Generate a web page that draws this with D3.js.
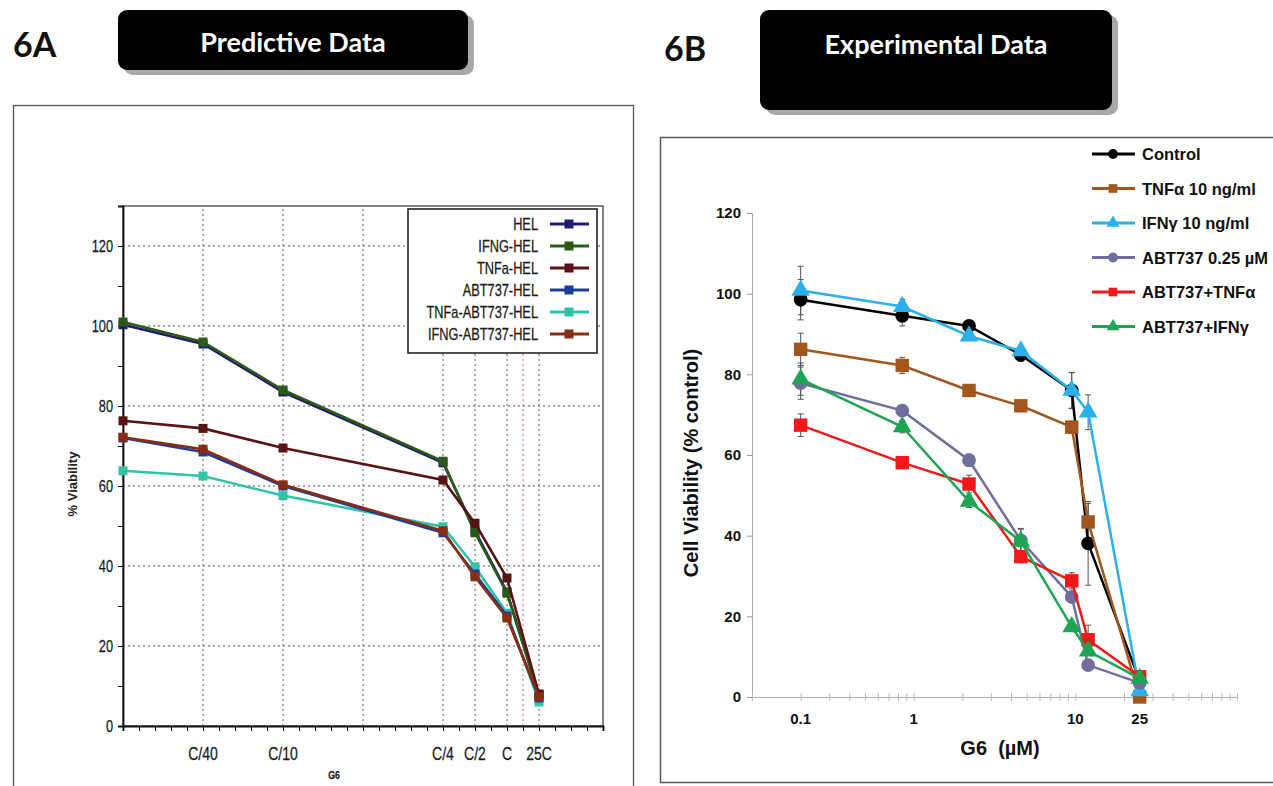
<!DOCTYPE html>
<html>
<head>
<meta charset="utf-8">
<script src="https://cdn.jsdelivr.net/npm/d3@7"></script>
<style>
  body { margin: 0; background: #fff; }
  svg { display: block; }
  .narrow { font-family: "Liberation Sans", Arial, sans-serif; }
  .bold { font-family: "Liberation Sans", Arial, sans-serif; font-weight: bold; }
</style>
</head>
<body>
<div id="chart"></div>
<script>
// ---- 6A predictive data ----
var predX = [0, 5, 10, 20, 22, 24, 26];
var predTickValues = [5, 10, 20, 22, 24, 26];
var predTickLabels = ["C/40", "C/10", "C/4", "C/2", "C", "25C"];
var predGridX = [5, 10, 15, 20, 22, 24, 26];
var predNames = ["HEL", "IFNG-HEL", "TNFa-HEL", "ABT737-HEL", "TNFa-ABT737-HEL", "IFNG-ABT737-HEL"];
var predHEL = [100.3, 95.5, 83.5, 65.8, 48.8, 33.5, 7.8];
var predIFNG = [101, 96, 84, 66.2, 48.3, 33.2, 7.6];
var predTNFa = [76.3, 74.4, 69.5, 61.5, 50.7, 37, 8];
var predABT = [72, 68.5, 60, 48.3, 38, 27.5, 7];
var predTNFaABT = [63.8, 62.5, 57.6, 49.8, 39.8, 28.2, 6];
var predIFNGABT = [72.2, 69.2, 60.3, 48.8, 37.3, 27, 7.3];
var predYTicks = [0, 20, 40, 60, 80, 100, 120];

// ---- 6B experimental data ----
var expDoses = [0.2, 0.85, 2.2, 4.6, 9.5, 12, 25];
var expTickValues = [0.2, 1, 10, 25];
var expTickLabels = ["0.1", "1", "10", "25"];
var expNames = ["Control", "TNF\u03b1 10 ng/ml", "IFN\u03b3 10 ng/ml", "ABT737 0.25 \u00b5M", "ABT737+TNF\u03b1", "ABT737+IFN\u03b3"];
var expControl = [98.5, 94.5, 92, 84.8, 76, 38.1, 4];
var expTNF = [86.2, 82.2, 76, 72.2, 66.9, 43.4, 0];
var expIFN = [100.8, 96.8, 89.5, 85.8, 76, 70.6, 1.5];
var expABT = [77.8, 71, 58.7, 38.8, 24.8, 7.9, 3.5];
var expABTTNF = [67.4, 58.1, 52.8, 34.8, 28.8, 14.2, 5];
var expABTIFN = [78.8, 67, 48.5, 38.6, 17.4, 11.4, 4.6];
var expControlErr = [5, 2.5, 0.8, 1.5, 4.5, 10.4, 0.5];
var expTNFErr = [4, 2, 0.8, 1, 1.5, 4.6, 0.3];
var expIFNErr = [6, 1.8, 1, 1, 4.4, 4.3, 0.5];
var expABTErr = [4, 1, 1.5, 3, 1, 0.8, 0.3];
var expABTTNFErr = [2.8, 1, 2.2, 1.5, 2, 3.6, 0.5];
var expABTIFNErr = [4, 1.5, 1.5, 3, 1, 1, 0.5];
var expYTicks = [0, 20, 40, 60, 80, 100, 120];

var svg = d3.select("#chart")
  .append("svg")
  .attr("width", 1273)
  .attr("height", 786);

// condensed text (squeezed horizontally like Arial Narrow)
function narrowText(parent, x, y, str, size, anchor) {
  return parent.append("text").attr("class", "narrow")
    .attr("transform", `translate(${x},${y}) scale(0.8,1)`)
    .attr("text-anchor", anchor || "start")
    .attr("font-size", size).attr("fill", "#1a1a1a")
    .attr("stroke", "#1a1a1a").attr("stroke-width", 0.25)
    .text(str);
}

// header boxes
function header(label, lx, ly, bx, by, bw, bh, title, ty) {
  svg.append("text").attr("x", lx).attr("y", ly)
    .attr("font-family", "Lato, 'Open Sans', sans-serif").attr("font-weight", "bold")
    .attr("font-size", 34).attr("fill", "#111").text(label);
  svg.append("rect").attr("x", bx + 6).attr("y", by + 5).attr("width", bw).attr("height", bh)
    .attr("rx", 9).attr("fill", "#a8a8a8");
  svg.append("rect").attr("x", bx).attr("y", by).attr("width", bw).attr("height", bh)
    .attr("rx", 9).attr("fill", "#000");
  svg.append("text").attr("x", bx + bw / 2).attr("y", ty)
    .attr("text-anchor", "middle")
    .attr("font-family", "Lato, 'Open Sans', sans-serif").attr("font-weight", "bold")
    .attr("font-size", 27).attr("fill", "#fff").text(title);
}
header("6A", 13, 57, 118, 10, 350, 60, "Predictive Data", 52);
header("6B", 664, 61, 760, 10, 352, 100, "Experimental Data", 54);

// panel frames
svg.append("rect").attr("x", 13.5).attr("y", 105.5).attr("width", 620).attr("height", 700)
  .attr("fill", "none").attr("stroke", "#555").attr("stroke-width", 1.3);
svg.append("rect").attr("x", 660.5).attr("y", 137.5).attr("width", 630).attr("height", 645)
  .attr("fill", "none").attr("stroke", "#555").attr("stroke-width", 1.5);

// ================= 6A =================
var xA = d3.scaleLinear().domain([0, 30]).range([123, 603]);
var yA = d3.scaleLinear().domain([0, 130]).range([726, 206]);
var gA = svg.append("g");

// dotted grid
gA.selectAll(".hgrid").data(predYTicks.slice(1)).enter().append("line")
  .attr("x1", xA(0)).attr("x2", xA(30))
  .attr("y1", d => yA(d)).attr("y2", d => yA(d))
  .attr("stroke", "#555").attr("stroke-width", 1.2).attr("stroke-dasharray", "2,3");
gA.selectAll(".vgrid").data(predGridX).enter().append("line")
  .attr("x1", d => xA(d)).attr("x2", d => xA(d))
  .attr("y1", yA(0)).attr("y2", yA(130))
  .attr("stroke", "#777").attr("stroke-width", 1.2).attr("stroke-dasharray", "2,3");
gA.append("line")
  .attr("x1", xA(25)).attr("x2", xA(25)).attr("y1", yA(0)).attr("y2", yA(130))
  .attr("stroke", "#c07070").attr("stroke-width", 1).attr("stroke-dasharray", "2,3");

// frame
gA.append("rect").attr("x", xA(0)).attr("y", yA(130))
  .attr("width", xA(30) - xA(0)).attr("height", yA(0) - yA(130))
  .attr("fill", "none").attr("stroke", "#333").attr("stroke-width", 1.2);

// y axis
var yAxisA = d3.axisLeft(yA).tickValues(d3.range(0, 121, 10)).tickSize(5).tickFormat("");
gA.append("g").attr("transform", `translate(${xA(0)},0)`).call(yAxisA)
  .call(g => g.select(".domain").attr("stroke", "#111").attr("stroke-width", 1.8));
predYTicks.forEach(function(t) {
  narrowText(gA, xA(0) - 10, yA(t) + 6, t, 16, "end");
});

// x axis
var xAxisA = d3.axisBottom(xA).tickValues(d3.range(0, 31, 1)).tickSize(5).tickFormat("");
gA.append("g").attr("transform", `translate(0,${yA(0)})`).call(xAxisA)
  .call(g => g.select(".domain").attr("stroke", "#111").attr("stroke-width", 1.8));
predTickValues.forEach(function(t, i) {
  narrowText(gA, xA(t), 760, predTickLabels[i], 17.5, "middle");
});

gA.append("text").attr("class", "bold")
  .attr("transform", "rotate(-90)")
  .attr("x", -484).attr("y", 77)
  .attr("text-anchor", "middle").attr("font-size", 13).attr("fill", "#222")
  .text("% Viability");
narrowText(gA, 334, 779, "G6", 11, "middle").attr("font-weight", "bold");

// series
var predSeries = [
  { name: predNames[0], values: predHEL, color: "#1c1c70" },
  { name: predNames[1], values: predIFNG, color: "#2b5a16" },
  { name: predNames[2], values: predTNFa, color: "#5a1212" },
  { name: predNames[3], values: predABT, color: "#1f3c9c" },
  { name: predNames[4], values: predTNFaABT, color: "#2fc4a6" },
  { name: predNames[5], values: predIFNGABT, color: "#8a2c12" }
];
var lineA = d3.line().x((d, i) => xA(predX[i])).y(d => yA(d));
var drawOrderA = [0, 1, 2, 4, 3, 5];
drawOrderA.forEach(function(k) {
  var s = predSeries[k];
  gA.append("path").datum(s.values)
    .attr("d", lineA).attr("fill", "none")
    .attr("stroke", s.color).attr("stroke-width", 2.6);
  gA.selectAll(null).data(s.values).enter().append("rect")
    .attr("x", (d, i) => xA(predX[i]) - 4.5).attr("y", d => yA(d) - 4.5)
    .attr("width", 9).attr("height", 9).attr("fill", s.color);
});

// legend 6A
var legA = gA.append("g");
legA.append("rect").attr("x", 408).attr("y", 209).attr("width", 189).attr("height", 144)
  .attr("fill", "#fff").attr("stroke", "#222").attr("stroke-width", 1.6);
predSeries.forEach(function(s, i) {
  var yy = 224 + i * 22;
  narrowText(legA, 538, yy + 6, s.name, 16, "end");
  legA.append("line").attr("x1", 550).attr("x2", 589).attr("y1", yy).attr("y2", yy)
    .attr("stroke", s.color).attr("stroke-width", 2.8);
  legA.append("rect").attr("x", 564.5).attr("y", yy - 4.5).attr("width", 9).attr("height", 9)
    .attr("fill", s.color);
});

// ================= 6B =================
var xB = d3.scaleLog().domain([0.1, 100]).range([752, 1237]);
var yB = d3.scaleLinear().domain([0, 120]).range([697, 213]);
var gB = svg.append("g");

var yAxisB = d3.axisLeft(yB).tickValues(expYTicks).tickSize(5);
gB.append("g").attr("transform", `translate(${xB(0.1)},0)`).call(yAxisB)
  .call(g => g.select(".domain").attr("stroke", "#aaa"))
  .call(g => g.selectAll(".tick line").attr("stroke", "#999"))
  .call(g => g.selectAll("text").attr("class", "bold").attr("font-size", 15).attr("fill", "#111").attr("dx", -3));

var minorB = [];
[0.1, 1, 10].forEach(function(dec) {
  d3.range(1, 10).forEach(function(m) { minorB.push(dec * m); });
});
minorB.push(100);
var xAxisB = d3.axisBottom(xB).tickValues(minorB).tickSize(4).tickSizeOuter(0).tickFormat("");
gB.append("g").attr("transform", `translate(0,${yB(0)})`).call(xAxisB)
  .call(g => g.select(".domain").attr("stroke", "#aaa"))
  .call(g => g.selectAll(".tick line").attr("stroke", "#bbb").attr("y1", -4));
gB.selectAll(".xlab").data(expTickValues).enter().append("text")
  .attr("class", "bold")
  .attr("x", d => xB(d)).attr("y", 724)
  .attr("text-anchor", "middle").attr("font-size", 15).attr("fill", "#111")
  .text((d, i) => expTickLabels[i]);

gB.append("text").attr("class", "bold")
  .attr("transform", "rotate(-90)")
  .attr("x", -463).attr("y", 698)
  .attr("text-anchor", "middle").attr("font-size", 20).attr("fill", "#111")
  .text("Cell Viability (% control)");
gB.append("text").attr("class", "bold")
  .attr("x", 1000).attr("y", 755).attr("text-anchor", "middle")
  .attr("font-size", 20).attr("fill", "#111").attr("xml:space", "preserve")
  .text("G6  (\u00b5M)");

var expSeries = [
  { name: expNames[0], values: expControl, err: expControlErr, color: "#000000", shape: d3.symbolCircle },
  { name: expNames[1], values: expTNF, err: expTNFErr, color: "#a0561c", shape: d3.symbolSquare },
  { name: expNames[2], values: expIFN, err: expIFNErr, color: "#2bb0ea", shape: d3.symbolTriangle },
  { name: expNames[3], values: expABT, err: expABTErr, color: "#6f6e9e", shape: d3.symbolCircle },
  { name: expNames[4], values: expABTTNF, err: expABTTNFErr, color: "#f01818", shape: d3.symbolSquare },
  { name: expNames[5], values: expABTIFN, err: expABTIFNErr, color: "#1ea552", shape: d3.symbolTriangle }
];

// error bars
expSeries.forEach(function(s) {
  var eb = gB.append("g").attr("stroke", "#555").attr("stroke-width", 1);
  s.values.forEach(function(v, i) {
    var cx = xB(expDoses[i]);
    eb.append("line").attr("x1", cx).attr("x2", cx)
      .attr("y1", yB(v - s.err[i])).attr("y2", yB(v + s.err[i]));
    eb.append("line").attr("x1", cx - 3).attr("x2", cx + 3)
      .attr("y1", yB(v + s.err[i])).attr("y2", yB(v + s.err[i]));
    eb.append("line").attr("x1", cx - 3).attr("x2", cx + 3)
      .attr("y1", yB(v - s.err[i])).attr("y2", yB(v - s.err[i]));
  });
});

var lineB = d3.line().x((d, i) => xB(expDoses[i])).y(d => yB(d));
expSeries.forEach(function(s) {
  gB.append("path").datum(s.values)
    .attr("d", lineB).attr("fill", "none")
    .attr("stroke", s.color).attr("stroke-width", 2.5);
  gB.selectAll(null).data(s.values).enter().append("path")
    .attr("d", d3.symbol().type(s.shape).size(s.shape == d3.symbolSquare ? 180 : 150))
    .attr("transform", (d, i) => `translate(${xB(expDoses[i])},${yB(d)})`)
    .attr("fill", s.color);
});

// legend 6B
expSeries.forEach(function(s, i) {
  var yy = 154 + i * 34.5;
  gB.append("line").attr("x1", 1092).attr("x2", 1135).attr("y1", yy).attr("y2", yy)
    .attr("stroke", s.color).attr("stroke-width", 3);
  gB.append("path")
    .attr("d", d3.symbol().type(s.shape).size(75))
    .attr("transform", `translate(1113,${yy})`).attr("fill", s.color);
  gB.append("text").attr("class", "bold")
    .attr("x", 1142).attr("y", yy + 6)
    .attr("font-size", 16.5).attr("fill", "#111").text(s.name);
});
</script>
</body>
</html>
